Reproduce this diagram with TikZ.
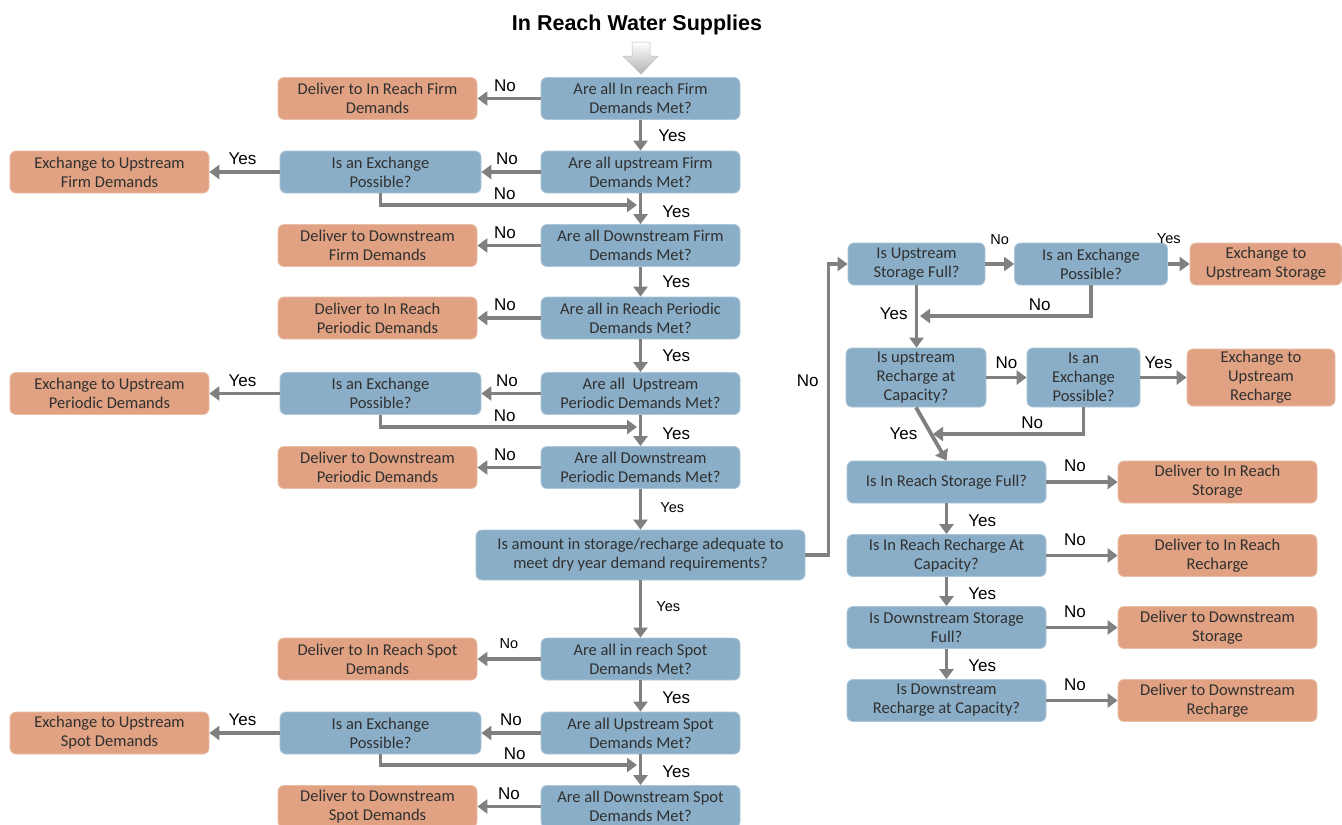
\documentclass[tikz,border=0pt]{standalone}
\usepackage{fontspec}
\setmainfont{Carlito}
\newfontfamily\lblfont{Liberation Sans}
\usetikzlibrary{arrows.meta,calc}
\definecolor{qblue}{HTML}{8AAEC7}
\definecolor{dorange}{HTML}{E0A282}
\definecolor{arrgray}{HTML}{808080}
\definecolor{txt}{HTML}{303030}
\begin{document}
\begin{tikzpicture}[x=1pt,y=-1pt,
  box/.style={rounded corners=6pt, align=center, text=txt,
    font=\fontsize{16.5}{19}\selectfont, inner sep=1pt,
    minimum width=199pt, minimum height=42pt, line width=0.8pt},
  qbox/.style={box, fill=qblue, draw=qblue!70!white},
  obox/.style={box, fill=dorange, draw=dorange!70!white},
  arr/.style={draw=arrgray, line width=3.8pt, -{Triangle[length=10pt,width=14pt]}},
  lbl/.style={font=\lblfont\fontsize{17}{17}\selectfont, text=black, inner sep=2pt},
  slbl/.style={font=\lblfont\fontsize{14.5}{14.5}\selectfont, text=black, inner sep=2pt}]
\useasboundingbox (0,0) rectangle (1342,825);
\fill[white] (0,0) rectangle (1342,825);

% title and entry arrow
\node[font=\lblfont\bfseries\fontsize{21.5}{22}\selectfont] (title) at (637,25) {In Reach Water Supplies};
\shade[top color=white, bottom color=gray!60, draw=gray!55, line width=0.5pt]
  (632,42) -- (650,42) -- (650,56) -- (658,56) -- (641,74) -- (623,56) -- (632,56) -- cycle;

% main column
\node[qbox] (q1) at (640.5,98.5) {Are all In reach Firm\\Demands Met?};
\node[qbox] (q2) at (640.5,172) {Are all upstream Firm\\Demands Met?};
\node[qbox] (q3) at (640.5,245.5) {Are all Downstream Firm\\Demands Met?};
\node[qbox] (q4) at (640.5,318) {Are all in Reach Periodic\\Demands Met?};
\node[qbox] (q5) at (640.5,393.5) {Are all\ \ Upstream\\Periodic Demands Met?};
\node[qbox] (q6) at (640.5,467.5) {Are all Downstream\\Periodic Demands Met?};
\node[qbox, minimum width=329pt, minimum height=50pt] (q7) at (640.5,555) {Is amount in storage/recharge adequate to\\meet dry year demand requirements?};
\node[qbox] (q8) at (640.5,659) {Are all in reach Spot\\Demands Met?};
\node[qbox] (q9) at (640.5,733) {Are all Upstream Spot\\Demands Met?};
\node[qbox] (q10) at (640.5,806.5) {Are all Downstream Spot\\Demands Met?};

% second column
\node[obox] (d1) at (377.5,98.5) {Deliver to In Reach Firm\\Demands};
\node[qbox, minimum width=201pt] (e1) at (380.5,172) {Is an Exchange\\Possible?};
\node[obox] (d3) at (377.5,245.5) {Deliver to Downstream\\Firm Demands};
\node[obox] (d4) at (377.5,318) {Deliver to In Reach\\Periodic Demands};
\node[qbox, minimum width=201pt] (e2) at (380.5,393.5) {Is an Exchange\\Possible?};
\node[obox] (d6) at (377.5,467.5) {Deliver to Downstream\\Periodic Demands};
\node[obox] (d8) at (377.5,659) {Deliver to In Reach Spot\\Demands};
\node[qbox, minimum width=201pt] (e3) at (380.5,733) {Is an Exchange\\Possible?};
\node[obox] (d10) at (377.5,806.5) {Deliver to Downstream\\Spot Demands};

% first column
\node[obox] (x1) at (109.5,172) {Exchange to Upstream\\Firm Demands};
\node[obox] (x2) at (109.5,393.5) {Exchange to Upstream\\Periodic Demands};
\node[obox] (x3) at (109.5,733) {Exchange to Upstream\\Spot Demands};

% right part
\node[qbox, minimum width=137pt] (r1) at (916.5,264) {Is Upstream\\Storage Full?};
\node[qbox, minimum width=153pt] (r2) at (1091,264) {Is an Exchange\\Possible?};
\node[obox, minimum width=152pt] (r3) at (1266,264) {Exchange to\\Upstream Storage};
\node[qbox, minimum width=140pt, minimum height=59pt] (r4) at (916,377.5) {Is upstream\\Recharge at\\Capacity?};
\node[qbox, minimum width=113pt, minimum height=59pt] (r5) at (1083.5,377.5) {Is an\\Exchange\\Possible?};
\node[obox, minimum width=148pt, minimum height=57pt] (r6) at (1261,377.5) {Exchange to\\Upstream\\Recharge};
\node[qbox] (r7) at (946.5,482) {Is In Reach Storage Full?};
\node[obox] (r8) at (1217.5,482) {Deliver to In Reach\\Storage};
\node[qbox] (r9) at (946.5,555.5) {Is In Reach Recharge At\\Capacity?};
\node[obox] (r10) at (1217.5,555.5) {Deliver to In Reach\\Recharge};
\node[qbox] (r11) at (946.5,627.5) {Is Downstream Storage\\Full?};
\node[obox] (r12) at (1217.5,627.5) {Deliver to Downstream\\Storage};
\node[qbox] (r13) at (946.5,700.5) {Is Downstream\\Recharge at Capacity?};
\node[obox] (r14) at (1217.5,700.5) {Deliver to Downstream\\Recharge};

% merge points
\coordinate (m1) at (637,205);
\coordinate (m2) at (637,427);
\coordinate (m3) at (637,765);
\coordinate (c2) at (920,316);
\coordinate (c3) at (933,434);

% main column arrows
\draw[arr] (q1.south) -- node[lbl, anchor=west, xshift=14pt]{Yes} (q2.north);
\draw[arr] (q2.south) -- node[lbl, anchor=west, xshift=18pt, yshift=-3pt]{Yes} (q3.north);
\draw[arr] (q3.south) -- node[lbl, anchor=west, xshift=18pt]{Yes} (q4.north);
\draw[arr] (q4.south) -- node[lbl, anchor=west, xshift=18pt]{Yes} (q5.north);
\draw[arr] (q5.south) -- node[lbl, anchor=west, xshift=18pt, yshift=-3pt]{Yes} (q6.north);
\draw[arr] (q6.south) -- node[slbl, anchor=west, xshift=16pt, yshift=2pt]{Yes} (q7.north);
\draw[arr] (q7.south) -- node[slbl, anchor=west, xshift=12pt, yshift=2pt]{Yes} (q8.north);
\draw[arr] (q8.south) -- node[lbl, anchor=west, xshift=18pt, yshift=-2pt]{Yes} (q9.north);
\draw[arr] (q9.south) -- node[lbl, anchor=west, xshift=18pt, yshift=-2pt]{Yes} (q10.north);

\draw[arr] (q1.west) -- node[lbl, above=3pt, xshift=-4pt]{No} (d1.east);
\draw[arr] (q2.west) -- node[lbl, above=3pt, xshift=-4pt]{No} (e1.east);
\draw[arr] (q3.west) -- node[lbl, above=3pt, xshift=-4pt]{No} (d3.east);
\draw[arr] (q4.west) -- node[lbl, above=3pt, xshift=-4pt]{No} (d4.east);
\draw[arr] (q5.west) -- node[lbl, above=3pt, xshift=-4pt]{No} (e2.east);
\draw[arr] (q6.west) -- node[lbl, above=3pt, xshift=-4pt]{No} (d6.east);
\draw[arr] (q8.west) -- node[slbl, above=6pt]{No} (d8.east);
\draw[arr] (q9.west) -- node[lbl, above=3pt]{No} (e3.east);
\draw[arr] (q10.west) -- node[lbl, above=3pt]{No} (d10.east);

\draw[arr] (e1.west) -- node[lbl, above=3pt, xshift=-2pt]{Yes} (x1.east);
\draw[arr] (e2.west) -- node[lbl, above=3pt, xshift=-2pt]{Yes} (x2.east);
\draw[arr] (e3.west) -- node[lbl, above=3pt, xshift=-2pt]{Yes} (x3.east);

\draw[arr] (e1.south) |- node[pos=0.75, lbl, above=1pt, xshift=-4pt]{No} (m1);
\draw[arr] (e2.south) |- node[pos=0.75, lbl, above=1pt, xshift=-4pt]{No} (m2);
\draw[arr] (e3.south) |- node[pos=0.75, lbl, above=1pt, xshift=6pt]{No} (m3);

% to the right part
\draw[arr] (q7.east) -- ++(23,0) |- node[pos=0.3, lbl, left=6pt]{No} (r1.west);

% right part arrows
\draw[arr] (r1.east) -- node[slbl, above=15pt]{No} (r2.west);
\draw[arr] (r2.east) -- node[slbl, above=16pt, xshift=-10pt]{Yes} (r3.west);
\draw[arr] (r2.south) |- node[pos=0.65, lbl, above=1pt]{No} (c2);
\draw[arr] (r1.south) -- node[lbl, left=5pt, yshift=3pt]{Yes} (r1.south |- r4.north);
\draw[arr] (r4.east) -- node[lbl, above=5pt]{No} (r5.west);
\draw[arr] (r5.east) -- node[lbl, above=5pt, xshift=-5pt]{Yes} (r6.west);
\draw[arr] (r5.south) |- node[pos=0.67, lbl, above=1pt]{No} (c3);
\draw[arr] (r4.south) -- node[lbl, left=10pt]{Yes} (r7.north);
\draw[arr] (r7.east) -- node[lbl, above=6pt, xshift=-7pt]{No} (r8.west);
\draw[arr] (r7.south) -- node[lbl, anchor=west, xshift=18pt, yshift=-2pt]{Yes} (r9.north);
\draw[arr] (r9.east) -- node[lbl, above=6pt, xshift=-7pt]{No} (r10.west);
\draw[arr] (r9.south) -- node[lbl, anchor=west, xshift=18pt, yshift=-2pt]{Yes} (r11.north);
\draw[arr] (r11.east) -- node[lbl, above=6pt, xshift=-7pt]{No} (r12.west);
\draw[arr] (r11.south) -- node[lbl, anchor=west, xshift=18pt, yshift=-2pt]{Yes} (r13.north);
\draw[arr] (r13.east) -- node[lbl, above=6pt, xshift=-7pt]{No} (r14.west);
\end{tikzpicture}
\end{document}
